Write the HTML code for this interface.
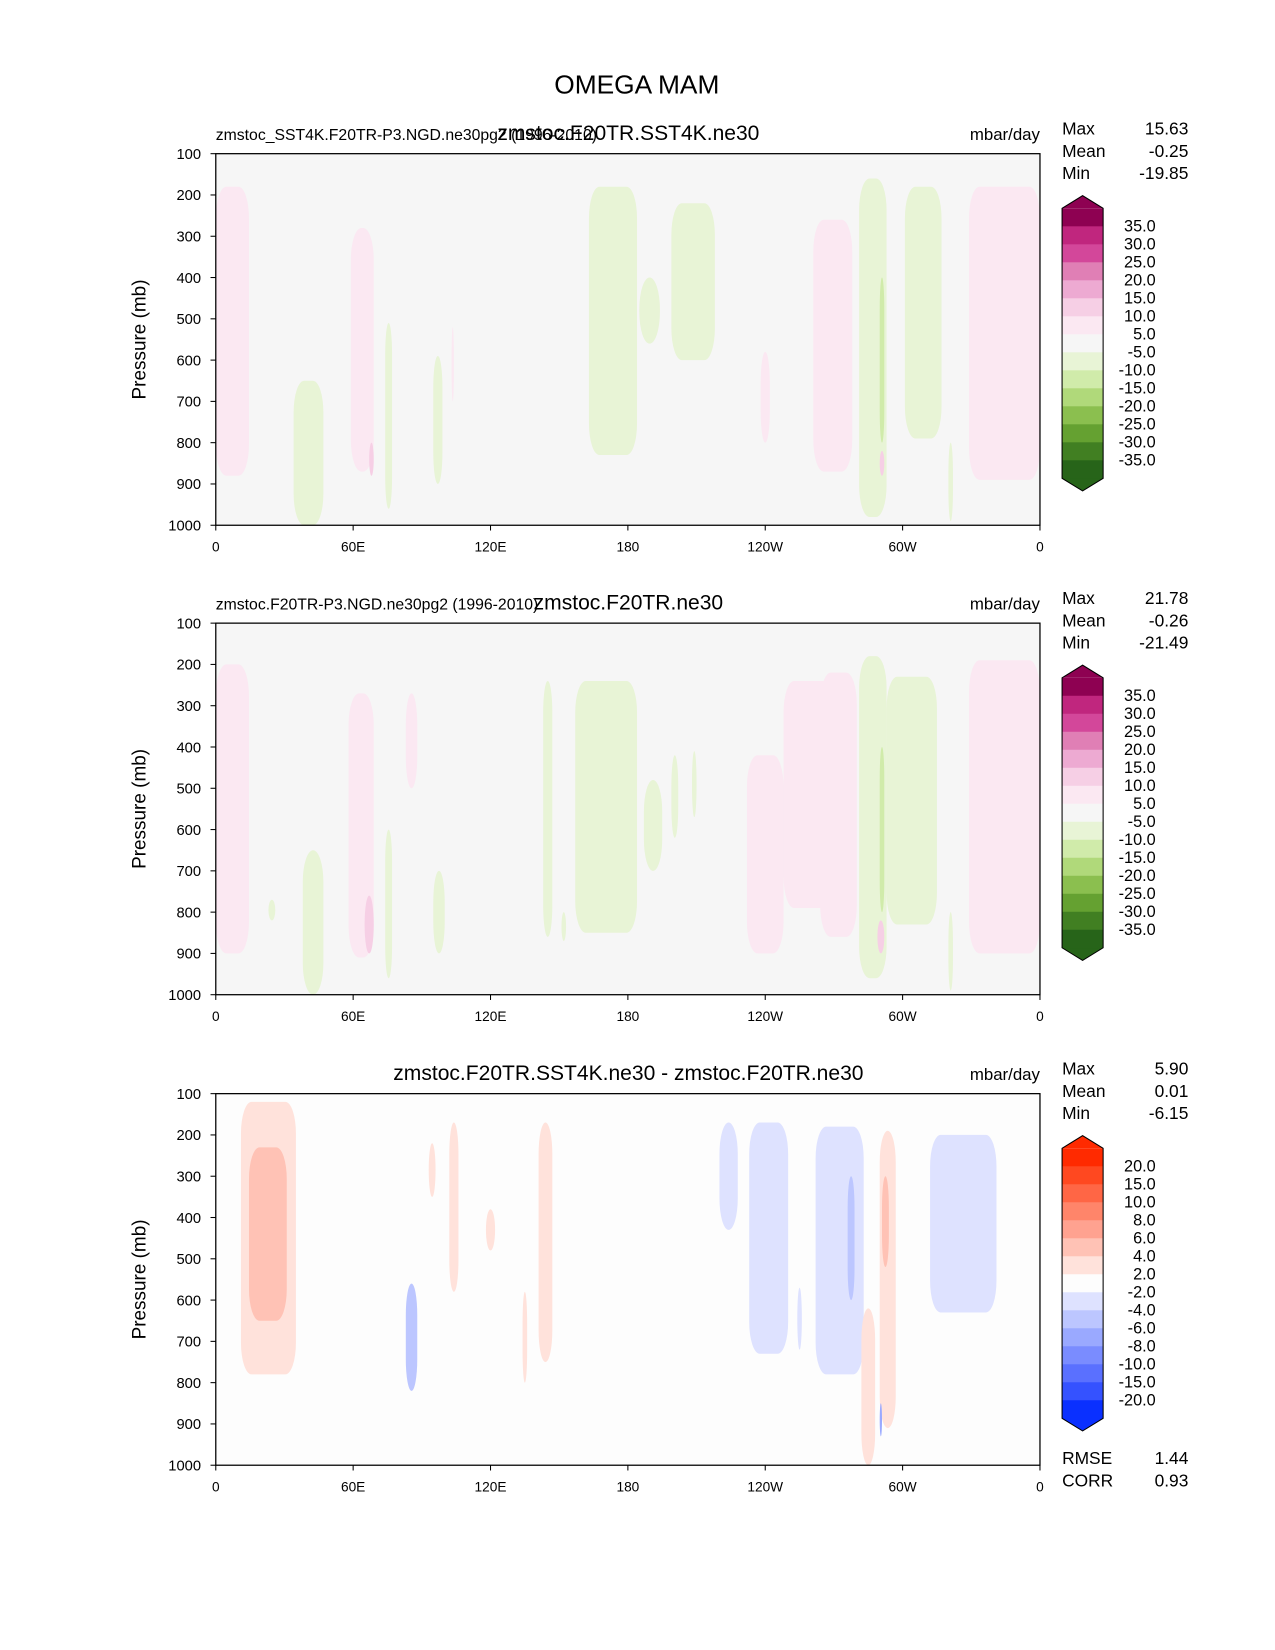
<!DOCTYPE html>
<html><head><meta charset="utf-8"><style>
body{margin:0;background:#fff}
svg{display:block;font-family:"Liberation Sans","DejaVu Sans",sans-serif}
</style></head><body>
<svg width="1275" height="1650" viewBox="0 0 1275 1650" xmlns="http://www.w3.org/2000/svg">
<rect width="1275" height="1650" fill="#fff"/>
<g id="fig" transform="scale(1.0526)">
<text x="605" y="89" font-size="25" text-anchor="middle">OMEGA MAM</text>
</g>
</svg>
<script>
const pTicks=[100,200,300,400,500,600,700,800,900,1000];
const lonTicks=[0,60,120,180,240,300,360];
const lonLabels=["0","60E","120E","180","120W","60W","0"];
const cbLabelsOmega=["35.0","30.0","25.0","20.0","15.0","10.0","5.0","-5.0","-10.0","-15.0","-20.0","-25.0","-30.0","-35.0"];
const cbColorsOmega=["#8e0152","#c0267e","#d3479a","#e07fb5","#edaad2","#f6cfe5","#fbe8f2","#f6f6f6","#e8f4d6","#d0ebaa","#b0d97a","#8bbf4f","#65a131","#417f22","#276419"];
const cbLabelsDiff=["20.0","15.0","10.0","8.0","6.0","4.0","2.0","-2.0","-4.0","-6.0","-8.0","-10.0","-15.0","-20.0"];
const cbColorsDiff=["#ff2a00","#ff4820","#ff6645","#ff856a","#ffa290","#ffc2b5","#ffe2db","#fdfdfd","#dee2ff","#bcc6ff","#9aa9ff","#7a8cff","#5a70ff","#3552ff","#0a30ff"];
// blobs: [lon0, lon1, pTop, pBottom, colorIndex]
const blobs1=[[0,14.5,180,880,6],[59,69,280,870,6],[34,47,650,1000,8],[74,77,510,960,8],[95,99,590,900,8],[163,184,180,830,8],[185,194,400,560,8],[199,218,220,600,8],[238,242,580,800,6],[261,278,260,870,6],[281,293,160,980,8],[290,292,400,800,9],[301,317,180,790,8],[329,360,180,890,6],[320,322,800,990,8],[290,292,820,880,5],[67,69,800,880,5],[103,104,520,700,6]];
const blobs2=[[0,14.5,200,900,6],[58,69,270,910,6],[38,47,650,1000,8],[74,77,600,960,8],[95,100,700,900,8],[83,88,270,500,6],[143,147,240,860,8],[157,184,240,850,8],[187,195,480,700,8],[199,202,420,620,8],[208,210,410,570,8],[232,248,420,900,6],[248,270,240,790,6],[264,280,220,860,6],[281,293,180,960,8],[290,292,400,800,9],[293,315,230,830,8],[329,360,190,900,6],[320,322,800,990,8],[289,292,820,900,5],[65,69,760,900,5],[151,153,800,870,8],[23,26,770,820,8]];
const blobs3=[[11,35,120,780,6],[14.5,31,230,650,5],[83,88,560,820,9],[93,96,220,350,6],[102,106,170,580,6],[118,122,380,480,6],[134,136,580,800,6],[141,147,170,750,6],[220,228,170,430,8],[233,250,170,730,8],[254,256,570,720,8],[262,283,180,780,8],[276,279,300,600,9],[282,288,620,1000,6],[290,297,190,910,6],[291,294,300,520,5],[312,341,200,630,8],[290,291,850,930,10]];
const panels=[
 {top:146,blobs:blobs1,bg:"#f6f6f6",cols:cbColorsOmega,labs:cbLabelsOmega,left:"zmstoc_SST4K.F20TR-P3.NGD.ne30pg2 (1996-2010)",center:"zmstoc.F20TR.SST4K.ne30",stats:["15.63","-0.25","-19.85"]},
 {top:592,blobs:blobs2,bg:"#f6f6f6",cols:cbColorsOmega,labs:cbLabelsOmega,left:"zmstoc.F20TR-P3.NGD.ne30pg2 (1996-2010)",center:"zmstoc.F20TR.ne30",stats:["21.78","-0.26","-21.49"]},
 {top:1039,blobs:blobs3,bg:"#fdfdfd",cols:cbColorsDiff,labs:cbLabelsDiff,left:"",center:"zmstoc.F20TR.SST4K.ne30 - zmstoc.F20TR.ne30",stats:["5.90","0.01","-6.15"],extra:[["RMSE","1.44"],["CORR","0.93"]]}
];
const NS="http://www.w3.org/2000/svg";
const fig=document.getElementById('fig');
function mk(tag,attrs,parent,txt){const e=document.createElementNS(NS,tag);for(const k in attrs)e.setAttribute(k,attrs[k]);if(txt!==undefined)e.textContent=txt;(parent||fig).appendChild(e);return e;}
const X0=205,X1=988,H=353;
panels.forEach((P,pi)=>{
 const g=mk('g',{});
 
 
 const xs=l=>X0+l/360*(X1-X0);
 const ys=p=>P.top+(p-100)/900*H;
 const bg=mk('rect',{x:X0,y:P.top,width:X1-X0,height:H,fill:P.bg},g);
 
 
 P.blobs.forEach(b=>{
  const w=xs(b[1])-xs(b[0]),h=ys(b[3])-ys(b[2]);
  const r=mk('rect',{x:xs(b[0]),y:ys(b[2]),width:w,height:h,rx:Math.min(w/2,10),ry:Math.min(h/2,30),fill:P.cols[b[4]]},g);
  
  
 });
 const fr=mk('rect',{x:X0,y:P.top,width:X1-X0,height:H,fill:'none',stroke:'#000','stroke-width':1.2},g);
 
 
 pTicks.forEach(p=>{
  mk('line',{x1:X0-5,x2:X0,y1:ys(p),y2:ys(p),stroke:'#000'},g);
  const t=mk('text',{x:X0-14,y:ys(p)+5,'font-size':14,'text-anchor':'end'},g,String(p));
  
  
 });
 lonTicks.forEach((l,i)=>{
  mk('line',{x1:xs(l),x2:xs(l),y1:P.top+H,y2:P.top+H+5,stroke:'#000'},g);
  const t=mk('text',{x:xs(l),y:P.top+H+25,'font-size':13,'text-anchor':'middle'},g,lonLabels[i]);
  
  
 });
 const yt=mk('text',{x:0,y:0,'font-size':18,'text-anchor':'middle',transform:`translate(138,${P.top+H/2}) rotate(-90)`},g,'Pressure (mb)');
 
 
 if(P.left){const t=mk('text',{x:X0,y:P.top-13,'font-size':15},g,P.left);
  
  }
 const ct=mk('text',{x:597,y:P.top-13,'font-size':20,'text-anchor':'middle'},g,P.center);
 
 
 const un=mk('text',{x:X1,y:P.top-13,'font-size':16,'text-anchor':'end'},g,'mbar/day');
 
 
 ["Max","Mean","Min"].forEach((n,i)=>{
  const a=mk('text',{x:1009,y:P.top-18+i*21,'font-size':16.5},g,n);
  
  
  const b=mk('text',{x:1129,y:P.top-18+i*21,'font-size':16.5,'text-anchor':'end'},g,P.stats[i]);
  
  
 });
 if(P.extra)P.extra.forEach((e,i)=>{
  const a=mk('text',{x:1009,y:P.top+H-1+i*21,'font-size':16.5},g,e[0]);
  
  
  const b=mk('text',{x:1129,y:P.top+H-1+i*21,'font-size':16.5,'text-anchor':'end'},g,e[1]);
  
  
 });
 const cb=mk('g',{},g);
 
 
 const bx=1009,bw=39,step=17.1,first=P.top+69;
 const rTop=first-step, n=P.cols.length, rBot=rTop+n*step;
 mk('polygon',{points:`${bx},${rTop} ${bx+bw/2},${rTop-12} ${bx+bw},${rTop}`,fill:P.cols[0]},cb);
 mk('polygon',{points:`${bx},${rBot} ${bx+bw/2},${rBot+12} ${bx+bw},${rBot}`,fill:P.cols[n-1]},cb);
 P.cols.forEach((c,i)=>mk('rect',{x:bx,y:rTop+i*step,width:bw,height:step+0.6,fill:c},cb));
 mk('polygon',{points:`${bx},${rTop} ${bx+bw/2},${rTop-12} ${bx+bw},${rTop} ${bx+bw},${rBot} ${bx+bw/2},${rBot+12} ${bx},${rBot}`,fill:'none',stroke:'#000','stroke-width':1},cb);
 P.labs.forEach((l,i)=>{
  const t=mk('text',{x:1098,y:first+i*step+5,'font-size':15.5,'text-anchor':'end'},cb,l);
  
  
 });
});
</script>
</body></html>
